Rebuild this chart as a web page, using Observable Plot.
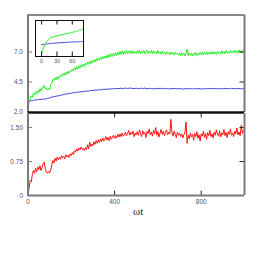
<!DOCTYPE html>
<html><head><meta charset="utf-8">
<script src="https://cdn.jsdelivr.net/npm/d3@7"></script>
<script src="https://cdn.jsdelivr.net/npm/@observablehq/plot@0.6"></script>
<style>
body{margin:0;background:#fff;}
#chart{position:relative;width:257px;height:261px;}
#chart svg{position:absolute;left:0;top:0;}
</style></head><body><div id="chart"></div>
<script>
// ---- axes / ticks ----
const xDomain = [0, 1000];
const xTicks = [0, 400, 800];
const xTickLabels = ["0", "400", "800"];
const xAxisLabel = "ωt";
const topDomain = [1.95, 10.1];
const topTicks = [2.0, 4.5, 7.0];
const topTickLabels = ["2.0", "4.5", "7.0"];
const bottomDomain = [0, 1.81];
const bottomTicks = [0, 0.75, 1.5];
const bottomTickLabels = ["0", "0.75", "1.50"];
const insetXDomain = [-12, 82];
const insetYDomain = [1.98, 4.63];
const insetTicks = [0, 30, 60];
const insetTickLabels = ["0", "30", "60"];

// ---- series (sampled every tStep in ωt) ----
const tStep = 5;
const green = [
  2.20, 2.85, 3.02, 3.35, 3.22, 3.58, 3.41, 3.70, 3.50, 3.80,
  3.62, 3.92, 3.74, 4.05, 3.98, 4.22, 3.95, 4.00, 3.82, 3.98,
  3.86, 4.30, 4.40, 4.72, 4.62, 4.86, 4.68, 4.95, 4.74, 5.02,
  4.92, 5.14, 5.00, 5.24, 5.06, 5.32, 5.14, 5.40, 5.22, 5.46,
  5.38, 5.58, 5.42, 5.70, 5.52, 5.78, 5.58, 5.86, 5.66, 5.90,
  5.78, 5.98, 5.80, 6.08, 5.92, 6.16, 5.98, 6.24, 6.02, 6.28,
  6.14, 6.36, 6.18, 6.44, 6.24, 6.50, 6.32, 6.58, 6.38, 6.62,
  6.46, 6.68, 6.48, 6.74, 6.54, 6.80, 6.58, 6.86, 6.64, 6.90,
  6.72, 6.94, 6.70, 7.00, 6.78, 7.04, 6.80, 7.10, 6.82, 7.06,
  6.86, 7.12, 6.84, 7.08, 6.90, 7.14, 6.86, 7.10, 6.92, 7.04,
  6.88, 7.12, 6.90, 7.16, 6.84, 7.08, 6.94, 7.14, 6.86, 7.02,
  7.18, 6.88, 7.06, 6.92, 7.14, 6.84, 7.10, 6.90, 7.04, 6.86,
  7.12, 6.90, 7.02, 6.82, 7.08, 6.88, 6.98, 6.80, 7.04, 6.86,
  6.96, 6.78, 7.00, 6.84, 6.94, 6.76, 6.98, 6.82, 6.92, 6.74,
  6.90, 6.70, 6.96, 6.76, 6.88, 6.68, 6.92, 7.26, 6.70, 6.94,
  6.74, 6.90, 6.66, 6.92, 6.76, 6.96, 6.72, 6.90, 6.78, 6.98,
  6.80, 7.00, 6.76, 6.96, 6.82, 7.04, 6.78, 6.98, 6.84, 7.02,
  6.82, 7.06, 6.86, 7.00, 6.80, 7.08, 6.88, 7.02, 6.84, 7.10,
  6.90, 7.06, 6.86, 7.12, 6.92, 7.04, 6.88, 7.14, 6.94, 7.08,
  6.92, 7.16, 6.96, 7.10, 6.90, 7.18, 6.98, 7.12, 6.94, 7.20,
  7.02
];
const red = [
  0.00, 0.16, 0.33, 0.30, 0.46, 0.55, 0.49, 0.60, 0.52, 0.63,
  0.57, 0.66, 0.55, 0.62, 0.70, 0.74, 0.58, 0.52, 0.49, 0.53,
  0.50, 0.56, 0.68, 0.77, 0.72, 0.82, 0.76, 0.85, 0.79, 0.84,
  0.80, 0.88, 0.83, 0.86, 0.81, 0.90, 0.85, 0.89, 0.84, 0.92,
  0.88, 0.95, 0.90, 0.99, 0.96, 1.03, 0.98, 1.05, 1.01, 1.07,
  1.02, 1.04, 0.99, 1.06, 1.01, 1.12, 1.03, 1.18, 1.08, 1.14,
  1.10, 1.19, 1.13, 1.21, 1.15, 1.23, 1.17, 1.25, 1.19, 1.27,
  1.20, 1.24, 1.30, 1.22, 1.28, 1.21, 1.31, 1.24, 1.29, 1.33,
  1.26, 1.32, 1.27, 1.35, 1.29, 1.36, 1.30, 1.38, 1.31, 1.34,
  1.40, 1.32, 1.37, 1.44, 1.33, 1.39, 1.35, 1.42, 1.30, 1.38,
  1.34, 1.41, 1.33, 1.45, 1.36, 1.30, 1.43, 1.35, 1.39, 1.28,
  1.42, 1.37, 1.47, 1.34, 1.40, 1.31, 1.44, 1.36, 1.50, 1.33,
  1.41, 1.29, 1.38, 1.46, 1.35, 1.42, 1.32, 1.39, 1.45, 1.34,
  1.40, 1.36, 1.68, 1.38, 1.31, 1.42, 1.35, 1.28, 1.40, 1.33,
  1.37, 1.30, 1.36, 1.27, 1.34, 1.40, 1.62, 1.15, 1.33, 1.25,
  1.38, 1.29, 1.35, 1.22, 1.37, 1.30, 1.41, 1.26, 1.34, 1.20,
  1.36, 1.31, 1.42, 1.28, 1.37, 1.24, 1.39, 1.32, 1.44, 1.30,
  1.36, 1.27, 1.40, 1.33, 1.45, 1.35, 1.31, 1.43, 1.29, 1.38,
  1.34, 1.46, 1.32, 1.39, 1.28, 1.41, 1.35, 1.47, 1.33, 1.38,
  1.30, 1.42, 1.36, 1.49, 1.34, 1.40, 1.32, 1.55, 1.37, 1.44,
  1.39
];
const blueStep = 10;
const blue = [
  2.87, 2.93, 2.94, 3.00, 2.99, 3.05, 3.03, 3.08, 3.07, 3.14,
  3.17, 3.24, 3.26, 3.32, 3.34, 3.40, 3.42, 3.48, 3.49, 3.55,
  3.55, 3.61, 3.61, 3.66, 3.66, 3.71, 3.70, 3.75, 3.74, 3.79,
  3.78, 3.83, 3.82, 3.86, 3.85, 3.90, 3.88, 3.92, 3.91, 3.94,
  3.93, 3.96, 3.95, 3.98, 3.95, 3.99, 3.96, 3.99, 3.97, 3.95,
  3.98, 3.94, 3.98, 3.95, 3.99, 3.94, 3.97, 3.95, 3.93, 3.97,
  3.94, 3.98, 3.93, 3.97, 3.94, 3.92, 3.96, 3.93, 3.97, 3.92,
  3.96, 3.93, 3.91, 3.96, 3.92, 3.95, 3.91, 3.96, 3.92, 3.95,
  3.91, 3.95, 3.92, 3.96, 3.93, 3.97, 3.93, 3.96, 3.92, 3.96,
  3.93, 3.97, 3.94, 3.93, 3.97, 3.94, 3.93, 3.97, 3.94, 3.93,
  3.96
];
// inset: first 80 units of ωt, every insetStep
const insetStep = 2;
const insetGreen = [
  2.20, 2.42, 2.63, 2.80, 2.93, 3.06, 3.15, 3.24, 3.33, 3.38,
  3.42, 3.40, 3.46, 3.44, 3.50, 3.47, 3.53, 3.51, 3.56, 3.54,
  3.60, 3.58, 3.63, 3.61, 3.66, 3.70, 3.65, 3.72, 3.69, 3.76,
  3.73, 3.80, 3.77, 3.84, 3.81, 3.88, 3.86, 3.92, 3.89, 3.96,
  4.00
];
const insetBlue = [
  2.86, 2.87, 2.88, 2.88, 2.90, 2.91, 2.91, 2.93, 2.93, 2.94,
  2.95, 2.95, 2.96, 2.97, 2.96, 2.98, 2.98, 2.99, 2.99, 3.00,
  3.00, 3.01, 3.00, 3.02, 3.02, 3.03, 3.02, 3.03, 3.04, 3.04,
  3.05, 3.04, 3.05, 3.06, 3.06, 3.05, 3.07, 3.07, 3.06, 3.08,
  3.08
];

const GREEN = "#22ee22", BLUE = "#4646e8", RED = "#ff1414";
const SPINE = "#7a7a7a";
const W = 257, mL = 27.5, mR = 13;
const frameW = W - mL - mR;
const rows = (arr, step) => arr.map((v, i) => ({t: i * step, v}));
const fmt = (ticks, labels) => { const m = new Map(ticks.map((d, i) => [d, labels[i]])); return d => m.get(d); };
const baseStyle = {background: "transparent", overflow: "visible", fontFamily: "Liberation Sans, Arial, sans-serif", fontSize: "6.5px", color: "#555"};

// ---- top panel ----
const topMT = 14.5, topMB = 4, topH = 116;
const topPlot = Plot.plot({
  width: W, height: topH, marginLeft: mL, marginRight: mR, marginTop: topMT, marginBottom: topMB,
  style: baseStyle,
  x: {domain: xDomain, axis: null},
  y: {domain: topDomain, ticks: topTicks, tickSize: 0, tickPadding: 5, tickFormat: fmt(topTicks, topTickLabels), label: null},
  marks: [
    Plot.line(rows(blue, blueStep), {x: "t", y: "v", stroke: BLUE, strokeWidth: 1}),
    Plot.line(rows(green, tStep), {x: "t", y: "v", stroke: GREEN, strokeWidth: 1}),
    Plot.tickY(topTicks.slice(1), {stroke: SPINE, strokeWidth: 1, insetRight: frameW - 4.5}),
    Plot.tickY(topTicks.slice(1), {stroke: "#222", strokeWidth: 1, insetLeft: frameW - 4.5}),
    Plot.ruleY([topDomain[1]], {stroke: "#111", strokeWidth: 1}),
    Plot.ruleX([xDomain[0]], {stroke: SPINE, strokeWidth: 2}),
    Plot.ruleX([xDomain[1]], {stroke: SPINE, strokeWidth: 2}),
    Plot.ruleY([topDomain[0]], {stroke: "#111", strokeWidth: 2.5})
  ]
});

// ---- bottom panel ----
const botMT = 113, botMB = 66, botH = 261;
const botFrameH = botH - botMT - botMB;
const bottomPlot = Plot.plot({
  width: W, height: botH, marginLeft: mL, marginRight: mR, marginTop: botMT, marginBottom: botMB,
  style: baseStyle,
  x: {domain: xDomain, ticks: xTicks, tickSize: 0, tickPadding: 4, tickFormat: fmt(xTicks, xTickLabels), label: null},
  y: {domain: bottomDomain, ticks: bottomTicks, tickSize: 0, tickPadding: 5, tickFormat: fmt(bottomTicks, bottomTickLabels), label: null},
  marks: [
    Plot.line(rows(red, tStep), {x: "t", y: "v", stroke: RED, strokeWidth: 1}),
    Plot.tickY(bottomTicks.slice(1), {stroke: SPINE, strokeWidth: 1, insetRight: frameW - 4.5}),
    Plot.tickY(bottomTicks.slice(1), {stroke: "#222", strokeWidth: 1, insetLeft: frameW - 4.5}),
    Plot.tickX(xTicks.slice(1), {stroke: "#222", strokeWidth: 1, insetTop: botFrameH - 4.5}),
    Plot.tickX(xTicks.slice(1), {stroke: "#222", strokeWidth: 1, insetBottom: botFrameH - 4.5}),
    Plot.ruleX([xDomain[0]], {stroke: SPINE, strokeWidth: 2}),
    Plot.ruleX([xDomain[1]], {stroke: SPINE, strokeWidth: 2}),
    Plot.ruleY([bottomDomain[0]], {stroke: SPINE, strokeWidth: 2}),
    Plot.text([xAxisLabel], {text: d => d, frameAnchor: "bottom", lineAnchor: "top", dy: 12, dx: 2, fontSize: 11, fontFamily: "Liberation Serif, Times New Roman, serif", fill: "#222"})
  ]
});

// ---- inset ----
const inMT = 20, inMB = 205, inML = 35, inMR = 174, inH = 261;
const inFrameH = inH - inMT - inMB;
const insetPlot = Plot.plot({
  width: W, height: inH, marginLeft: inML, marginRight: inMR, marginTop: inMT, marginBottom: inMB,
  style: {...baseStyle, fontSize: "5.5px"},
  x: {domain: insetXDomain, ticks: insetTicks, tickSize: 0, tickPadding: 3, tickFormat: fmt(insetTicks, insetTickLabels), label: null},
  y: {domain: insetYDomain, axis: null},
  marks: [
    Plot.line(rows(insetBlue, insetStep), {x: "t", y: "v", stroke: BLUE, strokeWidth: 1}),
    Plot.line(rows(insetGreen, insetStep), {x: "t", y: "v", stroke: GREEN, strokeWidth: 1}),
    Plot.tickX(insetTicks, {stroke: "#111", strokeWidth: 1, insetBottom: inFrameH - 4.5}),
    Plot.tickX(insetTicks, {stroke: "#111", strokeWidth: 1, insetTop: inFrameH - 4.5}),
    Plot.frame({stroke: "#111", strokeWidth: 1})
  ]
});

document.getElementById("chart").append(topPlot, bottomPlot, insetPlot);
</script></body></html>
